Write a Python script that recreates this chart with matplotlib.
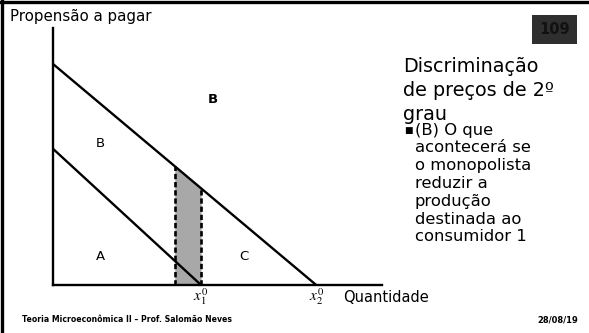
import matplotlib
matplotlib.use("Agg")
import matplotlib.pyplot as plt
import numpy as np

# Demand curves (quantity, willingness to pay) for the two consumers
q_max = [4.5, 8.0]          # x1^0, x2^0 : quantity where each demand hits zero
p_max = [5.3, 8.6]          # price intercept of each demand
shade_q = [3.7, 4.5]        # reduced-output strip for consumer 1
area_labels = ["A", "B", "C", "B"]
area_pos = [(1.45, 1.1), (1.45, 5.5), (5.8, 1.1), (4.85, 7.2)]
area_bold = [False, False, False, True]

W, H = 589, 333
fig = plt.figure(figsize=(W / 100, H / 100), dpi=100)
fig.patch.set_facecolor("white")
FONT = "DejaVu Sans"
plt.rcParams["mathtext.fontset"] = "stix"


def fx(px):
    return px / W


def fy(py):
    return 1 - py / H


# slide frame (top and left edges)
fig.add_artist(plt.Line2D([0, 1], [fy(1.5), fy(1.5)], color="black", lw=2.4))
fig.add_artist(plt.Line2D([fx(1.5), fx(1.5)], [0, 1], color="black", lw=2.4))

# chart axes
ax = fig.add_axes([fx(53), fy(285), fx(382) - fx(53), fy(28) - fy(285)])
ax.set_xlim(0, 10)
ax.set_ylim(0, 10)
for s in ["top", "right"]:
    ax.spines[s].set_visible(False)
for s in ["left", "bottom"]:
    ax.spines[s].set_linewidth(1.7)
ax.set_xticks([])
ax.set_yticks([])
ax.patch.set_alpha(0)


def demand(q, i):
    return p_max[i] * (1 - q / q_max[i])


# shaded strip under the outer demand
qs = np.linspace(shade_q[0], shade_q[1], 20)
ax.fill_between(qs, 0, demand(qs, 1), color="#a8a8a8", zorder=1, lw=0)
for q in shade_q:
    ax.plot([q, q], [0, demand(q, 1)], color="black", lw=1.9,
            ls=(0, (2.0, 1.1)), zorder=3)

for i in range(2):
    ax.plot([0, q_max[i]], [p_max[i], 0], color="black", lw=1.7, zorder=4,
            solid_capstyle="butt")

for lab, (x, y), b in zip(area_labels, area_pos, area_bold):
    ax.text(x, y, lab, ha="center", va="center", fontsize=9.5,
            fontweight="bold" if b else "normal", family=FONT)

for i, q in enumerate(q_max):
    ax.text(q, -0.45, rf"$x_{i+1}^0$", ha="center", va="center", fontsize=11)

fig.text(fx(343), fy(298), "Quantidade", ha="left", va="center",
         fontsize=10.5, family=FONT)
fig.text(fx(10), fy(17), "Propensão a pagar", ha="left", va="center",
         fontsize=10.8, family=FONT)

# slide number box
fig.text(fx(554.5), fy(29.5), "109", ha="center", va="center", fontsize=10.5,
         fontweight="bold", color="#111111", family=FONT,
         bbox=dict(boxstyle="square,pad=0.5", fc="#2f2f2f", ec="none"))

# title
for k, line in enumerate(["Discriminação", "de preços de 2º", "grau"]):
    fig.text(fx(403), fy(67 + 23.5 * k), line, ha="left", va="center",
             fontsize=13.8, family=FONT)

# bullet text
fig.text(fx(404), fy(130), "■", ha="left", va="center", fontsize=6.5,
         family=FONT)
body = ["(B) O que", "acontecerá se", "o monopolista", "reduzir a",
        "produção", "destinada ao", "consumidor 1"]
for k, line in enumerate(body):
    fig.text(fx(415), fy(130 + 17.8 * k), line, ha="left", va="center",
             fontsize=11.8, family=FONT)

fig.text(fx(22), fy(320), "Teoria Microeconômica II – Prof. Salomão Neves",
         ha="left", va="center", fontsize=5.6, fontweight="bold", family=FONT)
fig.text(fx(578), fy(320), "28/08/19", ha="right", va="center",
         fontsize=6, fontweight="bold", family=FONT)

fig.savefig("out.png", dpi=100)
